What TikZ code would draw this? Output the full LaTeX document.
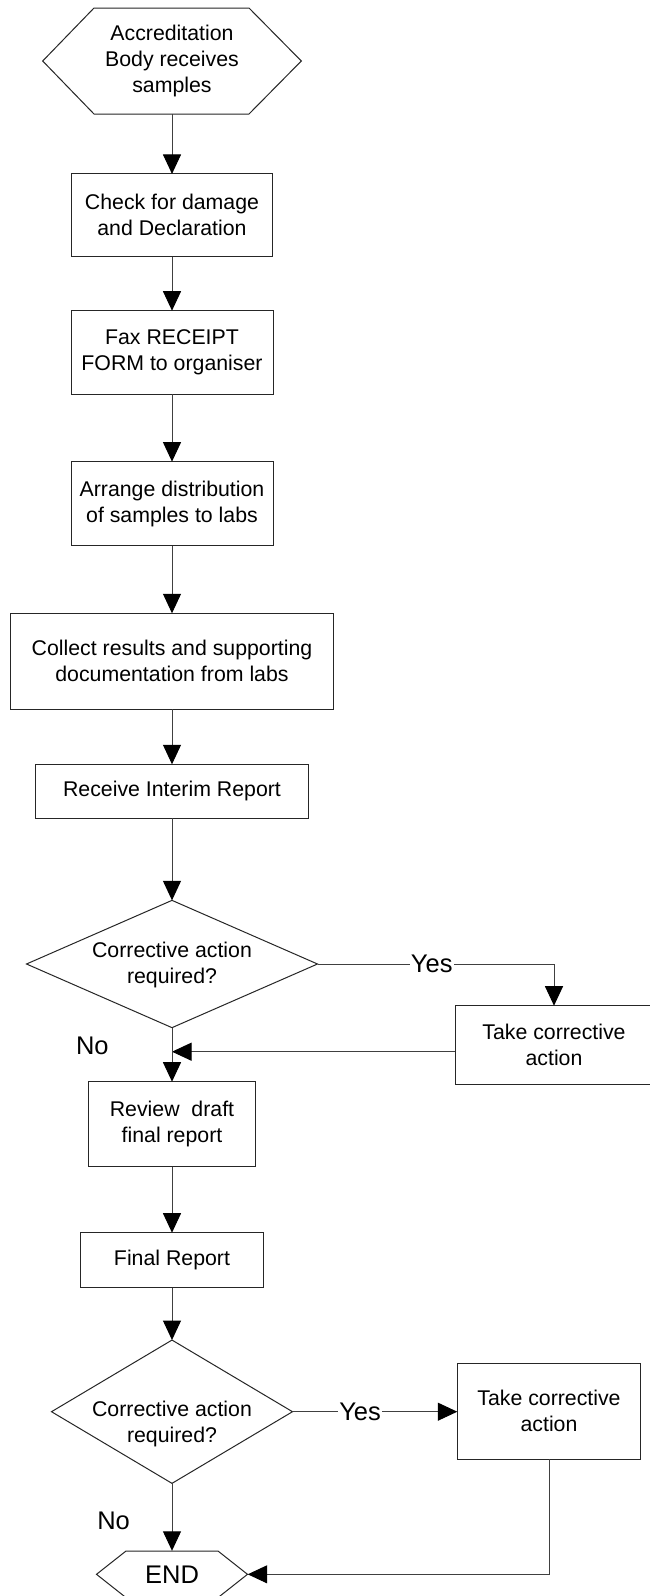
\documentclass[tikz,border=0pt]{standalone}
\usepackage{fontspec}
\setmainfont{Liberation Sans}
\usetikzlibrary{arrows.meta,shapes.geometric}
\begin{document}
\begin{tikzpicture}[x=1pt,y=-1pt,
  box/.style={draw=black!85, line width=1pt, rectangle, inner sep=0pt, outer sep=0pt, align=center, font=\fontsize{21.3}{26}\selectfont},
  dia/.style={draw=black!85, line width=1pt, diamond, inner sep=0pt, outer sep=0pt},
  txt/.style={align=center, inner sep=0pt, outer sep=0pt, font=\fontsize{21.3}{26}\selectfont},
  lbl/.style={inner sep=1pt, fill=white, font=\fontsize{25.5}{30}\selectfont},
  nolbl/.style={inner sep=0pt, font=\fontsize{25.5}{30}\selectfont},
  conn/.style={draw=black!75, line width=1pt, -{Triangle[width=18pt,length=19.5pt,color=black]}},
  shp/.style={draw=black!85, line width=1pt}]

\useasboundingbox (0,0) rectangle (649,1596);
\fill[white] (0,0) rectangle (649,1596);

% start hexagon
\draw[shp] (42.7,61) -- (94,8) -- (249,8) -- (301.3,61) -- (249,114) -- (94,114) -- cycle;
\node[txt, minimum width=258.6pt, minimum height=106pt] (start) at (172,61) {Accreditation\\Body receives\\samples};

\node[box, minimum width=201.7pt, minimum height=82.7pt] (b1) at (172,215.3) {Check for damage\\and Declaration};
\node[box, minimum width=202pt, minimum height=83.6pt] (b2) at (172,352.5) {Fax RECEIPT\\FORM to organiser};
\node[box, minimum width=202pt, minimum height=84.3pt] (b3) at (172,503.8) {Arrange distribution\\of samples to labs};
\node[box, minimum width=322.6pt, minimum height=96pt] (b4) at (172,661.3) {Collect results and supporting\\documentation from labs};
\node[box, minimum width=272.3pt, minimum height=54pt] (b5) at (172,791.3) {Receive Interim Report};

\node[dia, minimum width=291pt, minimum height=127.3pt] (d1) at (172,964) {};
\node[txt] (d1t) at (172,964.5) {Corrective action\\required?};

\node[box, minimum width=198pt, minimum height=78.6pt] (b6) at (554,1045) {Take corrective\\action};

\node[box, minimum width=167pt, minimum height=85pt] (b7) at (172,1124.2) {Review~ draft\\final report};
\node[box, minimum width=182.2pt, minimum height=55pt] (b8) at (172,1260.2) {Final Report};

\node[dia, minimum width=241pt, minimum height=143.3pt] (d2) at (172,1411.7) {};
\node[txt] (d2t) at (172,1424) {Corrective action\\required?};

\node[box, minimum width=183.4pt, minimum height=96pt] (b9) at (549,1411.3) {Take corrective\\action};

% END hexagon
\draw[shp] (96.5,1574.3) -- (126,1551) -- (218,1551) -- (247.5,1574.3) -- (218,1597.6) -- (126,1597.6) -- cycle;
\node[nolbl, minimum width=151pt, minimum height=46.6pt] (endn) at (172,1574.3) {END};

% connectors
\draw[conn] (start.south) -- (b1.north);
\draw[conn] (b1.south) -- (b2.north);
\draw[conn] (b2.south) -- (b3.north);
\draw[conn] (b3.south) -- (b4.north);
\draw[conn] (b4.south) -- (b5.north);
\draw[conn] (b5.south) -- (d1.north);

\draw[conn] (d1.east) -- node[lbl, pos=0.483] (yes1) {Yes} (d1.east -| b6.north) -- (b6.north);
\coordinate (m1) at (172,1051.7);
\draw[conn] (b6.west |- m1) -- (m1);
\draw[conn] (d1.south) -- (b7.north);
\node[nolbl] (no1) at (92.3,1045.7) {No};

\draw[conn] (b7.south) -- (b8.north);
\draw[conn] (b8.south) -- (d2.north);

\draw[conn] (d2.east) -- node[lbl, pos=0.41] (yes2) {Yes} (d2.east -| b9.west);
\draw[conn] (b9.south) |- (endn.east);
\draw[conn] (d2.south) -- (endn.north);
\node[nolbl] (no2) at (113.6,1520.7) {No};
\end{tikzpicture}
\end{document}
